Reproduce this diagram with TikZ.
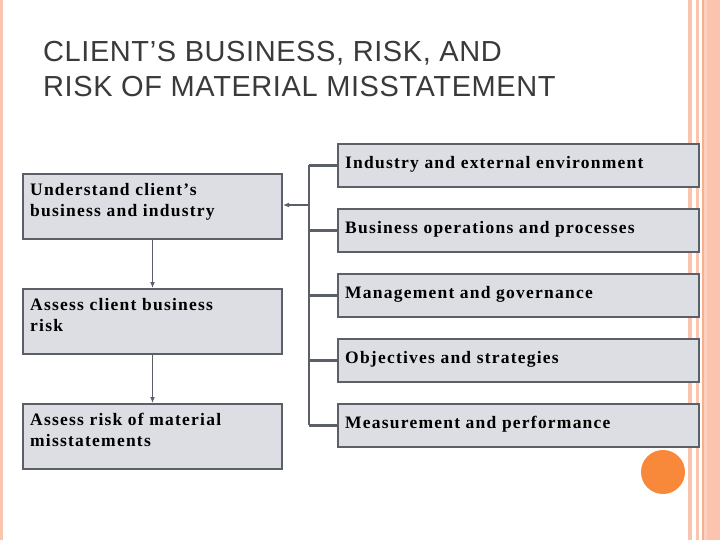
\documentclass[tikz,border=0pt]{standalone}
\usepackage{fontspec}
\usetikzlibrary{arrows.meta}
\setmainfont{Liberation Serif}
\newfontfamily\titlefont[LetterSpace=2]{Liberation Sans}
\newfontfamily\boxfont[LetterSpace=7]{Liberation Serif}
\definecolor{boxfill}{HTML}{DCDEE3}
\definecolor{boxline}{HTML}{5A5F68}
\definecolor{peach}{HTML}{FBC4AE}
\definecolor{peachd}{HTML}{F5B08F}
\definecolor{orangec}{HTML}{F8883A}
\definecolor{titlec}{HTML}{3A3A3A}
\begin{document}
\begin{tikzpicture}[x=1pt,y=-1pt,
  bx/.style={draw=boxline,fill=boxfill,line width=2pt,inner sep=0pt,anchor=north west},
  lbl/.style={font=\boxfont\bfseries\fontsize{17.5}{21}\selectfont,align=left,anchor=north west,inner sep=0pt},
  ln/.style={draw=boxline,line width=2.2pt},
  arr/.style={draw=boxline,line width=1.3pt,-{Latex[length=6pt,width=5pt]}}]
\useasboundingbox (0,0) rectangle (720,540);
\fill[white] (0,0) rectangle (720,540);
% decorations
\fill[peach] (0,0) rectangle (3,540);
\fill[peach] (688,0) rectangle (692,540);
\fill[peach] (696,0) rectangle (699,540);
\fill[peachd] (702,0) rectangle (703.5,540);
\fill[peach!80] (703.5,0) rectangle (707,540);
\fill[peach] (707,0) rectangle (720,540);
\node[circle,fill=orangec,minimum size=44pt,inner sep=0pt] (dot) at (663,472) {};
% title
\node[anchor=north west,inner sep=0pt,align=left,text=titlec,font=\titlefont\fontsize{29}{35}\selectfont] (title) at (43,41) {CLIENT’S BUSINESS, RISK, AND\\RISK OF MATERIAL MISSTATEMENT};
% left boxes
\node[bx,minimum width=259pt,minimum height=65pt] (l1) at (22,173) {};
\node[bx,minimum width=259pt,minimum height=65pt] (l2) at (22,288) {};
\node[bx,minimum width=259pt,minimum height=65pt] (l3) at (22,403) {};
\node[lbl] (t1) at (30,183) {Understand client’s\\business and industry};
\node[lbl] (t2) at (30,298) {Assess client business\\risk};
\node[lbl] (t3) at (30,413) {Assess risk of material\\misstatements};
% right boxes
\foreach \n/\y/\t in {r1/143/Industry and external environment,
  r2/208/Business operations and processes,
  r3/273/Management and governance,
  r4/338/Objectives and strategies,
  r5/403/Measurement and performance}{
  \node[bx,minimum width=361pt,minimum height=43pt] (\n) at (337,\y) {};
  \node[lbl,anchor=west] (\n t) at (345,\y+21.5) {\t};
}
% bracket
\coordinate (bt) at (309,165);
\coordinate (bb) at (309,424.5);
\coordinate (bm) at (309,205);
\draw[ln] (bt) -- (bb);
\foreach \n in {r1,r2,r3,r4,r5}{\draw[ln] (\n.west -| bt) -- (\n.west);}
\draw[arr] (bm) -- (bm -| l1.east);
\draw[arr] (l1.south) -- (l2.north);
\draw[arr] (l2.south) -- (l3.north);
\end{tikzpicture}
\end{document}
